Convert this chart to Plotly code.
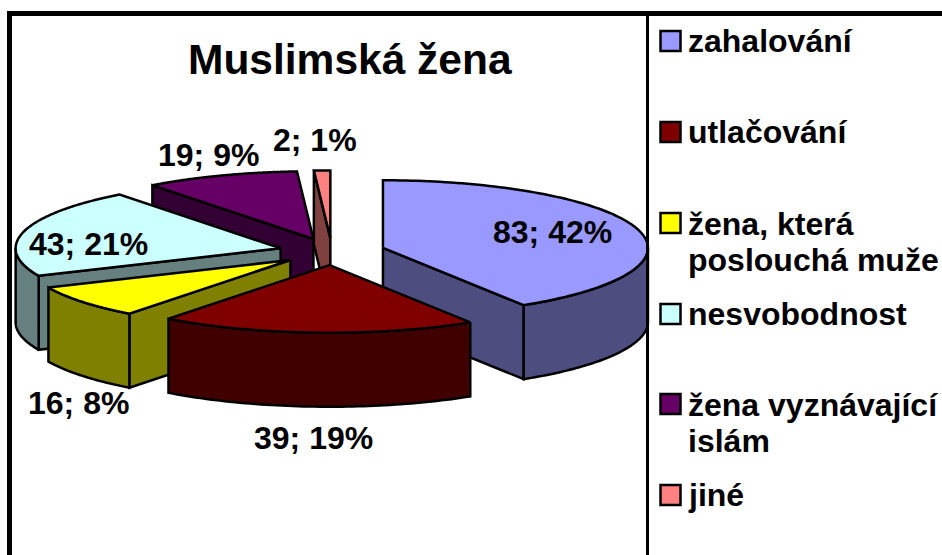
import numpy as np
import plotly.graph_objects as go

# --- data ---
categories = ["zahalování", "utlačování", "žena, která<br>poslouchá muže", "nesvobodnost",
              "žena vyznávající<br>islám", "jiné"]
values = [83, 39, 16, 43, 19, 2]
percents = [42, 19, 8, 21, 9, 1]
top_colors = ["#9999FF", "#800000", "#FFFF00", "#CCFFFF", "#660066", "#FF8080"]
side_colors = ["#4D4D80", "#400000", "#808000", "#668080", "#330033", "#804040"]
title = "Muslimská žena"

# --- layout geometry (pixels) ---
CX, CY, RX, RY = 332, 251.6, 265, 67.6
EXPLODE, DEPTH = 0.2, 74
LW = 2.5
label_pos = [(552, 232), (313, 438), (78, 403), (88, 244), (208, 155), (315, 140)]
legend_y = [41, 132, 223, 314, 404, 495]
legend_text_y = [41, 132, 224, 314, 405, 495]
LINE_STEP = 36

fig = go.Figure()


def poly(xs, ys, color, name):
    fig.add_trace(go.Scatter(x=xs, y=ys, mode="lines", fill="toself", fillcolor=color, name=name,
                             line=dict(color="black", width=LW, simplify=False), hoverinfo="name",
                             showlegend=False))


total = sum(values)
edges = np.cumsum([0] + values) / total * 2 * np.pi
slices = []
for i in range(len(values)):
    a, b = edges[i], edges[i + 1]
    m = (a + b) / 2
    slices.append((np.cos(m), i, a, b, m))

# back to front
for _, i, a, b, m in sorted(slices, key=lambda s: -s[0]):
    ax = CX + EXPLODE * RX * np.sin(m)
    ay = CY - EXPLODE * RY * np.cos(m)
    pt = lambda t: (ax + RX * np.sin(t), ay - RY * np.cos(t))
    name = categories[i].replace("<br>", " ")

    # flat cut faces that look towards the viewer
    for t, visible in ((a, np.sin(a) < 0), (b, np.sin(b) > 0)):
        if visible:
            ex, ey = pt(t)
            poly([ax, ex, ex, ax, ax], [ay, ey, ey + DEPTH, ay + DEPTH, ay], side_colors[i], name)

    # curved outer wall, only the front half
    lo, hi = max(a, np.pi / 2), min(b, 3 * np.pi / 2)
    if hi > lo:
        ts = np.linspace(lo, hi, 60)
        xs, ys = pt(ts)
        poly(np.r_[xs, xs[::-1], xs[0]], np.r_[ys, ys[::-1] + DEPTH, ys[0]], side_colors[i], name)

    # top face
    ts = np.linspace(a, b, 120)
    xs, ys = pt(ts)
    poly(np.r_[ax, xs, ax], np.r_[ay, ys, ay], top_colors[i], name)

FONT = "Liberation Sans, Arial, sans-serif"

# legend swatches
fig.add_trace(go.Scatter(x=[670.5] * len(categories), y=legend_y, mode="markers", showlegend=False,
                         text=categories, hoverinfo="text",
                         marker=dict(symbol="square", size=20, color=top_colors,
                                     line=dict(color="black", width=2.5))))
annotations = []
for text, y in zip(categories, legend_text_y):
    for k, part in enumerate(text.split("<br>")):
        annotations.append(dict(x=686, y=y + k * LINE_STEP, text=f"<b>{part}</b>", showarrow=False,
                                xanchor="left", yanchor="middle", align="left",
                                font=dict(family=FONT, size=32, color="black")))
for v, p, (x, y) in zip(values, percents, label_pos):
    annotations.append(dict(x=x, y=y, text=f"<b>{v}; {p}%</b>", showarrow=False, xanchor="center",
                            yanchor="middle", font=dict(family=FONT, size=32, color="black")))
annotations.append(dict(x=350, y=59, text=f"<b>{title}</b>", showarrow=False, xanchor="center",
                        yanchor="middle", font=dict(family=FONT, size=42.5, color="black")))

frame = [
    dict(type="line", x0=9.5, x1=9.5, y0=13, y1=560, line=dict(color="black", width=5)),
    dict(type="line", x0=7, x1=950, y0=13.5, y1=13.5, line=dict(color="black", width=5)),
    dict(type="line", x0=647.5, x1=647.5, y0=13, y1=560, line=dict(color="black", width=3)),
]

fig.update_layout(
    width=942, height=555, margin=dict(l=0, r=0, t=0, b=0), autosize=False,
    paper_bgcolor="white", plot_bgcolor="white", showlegend=False,
    xaxis=dict(range=[0, 942], visible=False, fixedrange=True),
    yaxis=dict(range=[555, 0], visible=False, fixedrange=True),
    annotations=annotations, shapes=frame,
)
fig.write_html("out.html", config={"displayModeBar": False},
               post_script="document.body.style.margin='0';document.documentElement.style.overflow='hidden';")
